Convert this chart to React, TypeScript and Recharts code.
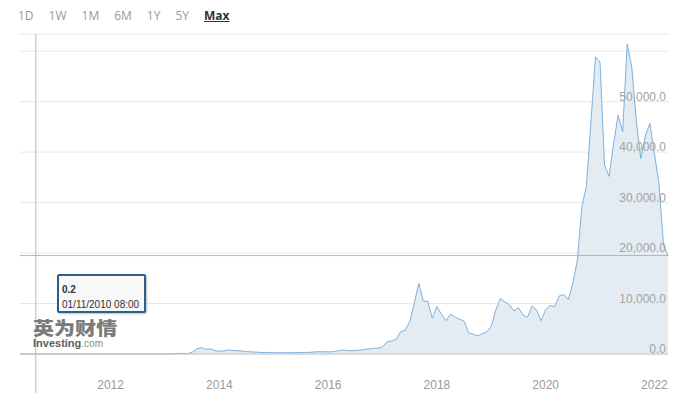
import { AreaChart, Area, XAxis, YAxis, CartesianGrid, ReferenceLine } from "recharts"

const dates = [
  "2010-05", "2010-08", "2010-11", "2011-02", "2011-05", "2011-08", "2011-11",
  "2012-02", "2012-05", "2012-08", "2012-11", "2013-02", "2013-04", "2013-06",
  "2013-07", "2013-08", "2013-09", "2013-10", "2013-11", "2013-12",
  "2014-01", "2014-02", "2014-03", "2014-04", "2014-05", "2014-06", "2014-07", "2014-08", "2014-09", "2014-10", "2014-11", "2014-12",
  "2015-01", "2015-02", "2015-03", "2015-04", "2015-05", "2015-06", "2015-07", "2015-08", "2015-09", "2015-10", "2015-11", "2015-12",
  "2016-01", "2016-02", "2016-03", "2016-04", "2016-05", "2016-06", "2016-07", "2016-08", "2016-09", "2016-10", "2016-11", "2016-12",
  "2017-01", "2017-02", "2017-03", "2017-04", "2017-05", "2017-06", "2017-07", "2017-08", "2017-09", "2017-10", "2017-11", "2017-12",
  "2018-01", "2018-02", "2018-03", "2018-04", "2018-05", "2018-06", "2018-07", "2018-08", "2018-09", "2018-10", "2018-11", "2018-12",
  "2019-01", "2019-02", "2019-03", "2019-04", "2019-05", "2019-06", "2019-07", "2019-08", "2019-09", "2019-10", "2019-11", "2019-12",
  "2020-01", "2020-02", "2020-03", "2020-04", "2020-05", "2020-06", "2020-07", "2020-08", "2020-09", "2020-10", "2020-11", "2020-12",
  "2021-01", "2021-02", "2021-03", "2021-04", "2021-05", "2021-06", "2021-07", "2021-08", "2021-09", "2021-10", "2021-11", "2021-12",
  "2022-01", "2022-02", "2022-03", "2022-04",
]

const prices = [
  0.1, 0.07, 0.2, 0.9, 8, 10, 3,
  5, 5, 10, 12, 30, 120, 100,
  350, 1000, 1300, 950, 1000, 700,
  550, 600, 800, 700, 650, 600, 480, 420, 380, 320, 300, 320,
  250, 260, 240, 280, 250, 270, 300, 310, 330, 420, 450, 430,
  420, 440, 600, 800, 700, 650, 700, 750, 900, 1000, 1100, 1150,
  1400, 2400, 2600, 2900, 4400, 4700, 6400, 10000, 14000, 10500, 10400, 7100,
  9400, 7900, 6600, 7900, 7300, 6900, 6500, 4200, 3900, 3600, 4000, 4400,
  5500, 8700, 11000, 10300, 9800, 8500, 9200, 7700, 7300, 9500, 8700, 6600,
  8800, 9600, 9400, 11500, 11800, 10800, 14000, 18600, 29200, 33300, 46000, 58900,
  57800, 37400, 35200, 41700, 47300, 44000, 61400, 56900, 46300, 38700, 43200, 45700,
  39700, 33800, 21600, 19500,
]

const yearTicks = [2012, 2014, 2016, 2018, 2020, 2022]
const priceTicks = [0, 10000, 20000, 30000, 40000, 50000, 60000]
const ranges = ["1D", "1W", "1M", "6M", "1Y", "5Y", "Max"]

const cursorDate = "2010-08-16"
const tooltipValue = "0.2"
const tooltipDate = "01/11/2010 08:00"

const toYear = (s: string) => {
  const [y, m, d] = s.split("-").map(Number)
  return y + (m - 1) / 12 + ((d || 1) - 1) / 365
}

const data = dates.map((d, i) => ({ t: toYear(d), price: prices[i] }))
const lastPrice = prices[prices.length - 1]
const cursorX = toYear(cursorDate)

const FONT = "Arial, 'Liberation Sans', sans-serif"

const fmt = (v: number) => v.toLocaleString("en-US", { minimumFractionDigits: 1, maximumFractionDigits: 1 })

const PriceTick = ({ y, payload }: any) => {
  // top gridline has no label
  if (payload.value >= 60000) return <g />
  return (
    <text x={666} y={y - 1} textAnchor="end" fill="#a3a3a3" fontSize={12} fontFamily={FONT}>
      {fmt(payload.value)}
    </text>
  )
}

const YearTick = ({ x, y, payload }: any) => (
  <text x={x} y={y + 35} textAnchor="middle" fill="#999" fontSize={12} fontFamily={FONT}>
    {payload.value}
  </text>
)

export default function App() {
  return (
    <div style={{ position: "absolute", left: 0, top: 0, width: 682, height: 400, background: "#fff", overflow: "hidden" }}>
      <AreaChart
        width={682}
        height={400}
        data={data}
        margin={{ top: 34, right: 14, bottom: 6, left: 20 }}
        style={{ position: "absolute", left: 0, top: 0 }}
      >
        <CartesianGrid vertical={false} stroke="#e8e8e8" />
        <XAxis
          dataKey="t"
          type="number"
          domain={["dataMin", "dataMax"]}
          ticks={yearTicks}
          axisLine={false}
          tickLine={false}
          tickSize={0}
          tickMargin={0}
          height={40}
          tick={<YearTick />}
        />
        <YAxis
          orientation="right"
          mirror
          domain={[0, 63400]}
          ticks={priceTicks}
          axisLine={false}
          tickLine={false}
          tickSize={0}
          tickMargin={0}
          tick={<PriceTick />}
        />
        <Area
          type="linear"
          dataKey="price"
          stroke="#7fb1de"
          strokeWidth={1}
          fill="#e3ecf2"
          fillOpacity={1}
          dot={false}
          activeDot={false}
          isAnimationActive={false}
        />
        <ReferenceLine y={0} stroke="#c6c6c6" />
        <ReferenceLine y={lastPrice} stroke="#b4b4b4" />
        <ReferenceLine
          segment={[{ x: cursorX, y: -7700 }, { x: cursorX, y: 63400 }]}
          stroke="#b8b8b8"
          ifOverflow="visible"
        />
      </AreaChart>

      <div style={{ position: "absolute", left: 18, top: 8, display: "flex", gap: 15, fontFamily: "'Open Sans', sans-serif", fontSize: 12, lineHeight: "16px" }}>
        {ranges.map((r) => (
          <span
            key={r}
            style={
              r === "Max"
                ? { color: "#333", fontWeight: 700, textDecoration: "underline" }
                : { color: "#999" }
            }
          >
            {r}
          </span>
        ))}
      </div>

      {/* watermark */}
      <div style={{ position: "absolute", left: 33, top: 318 }}>
        <div
          style={{
            fontFamily: "'Noto Sans CJK SC', sans-serif",
            fontWeight: 900,
            fontSize: 18,
            lineHeight: "18px",
            color: "#7b7b7b",
            transform: "scaleX(1.17)",
            transformOrigin: "left center",
            whiteSpace: "nowrap",
          }}
        >
          英为财情
        </div>
        <div style={{ fontFamily: FONT, fontSize: 11, lineHeight: "12px", marginTop: 1, whiteSpace: "nowrap" }}>
          <span style={{ fontWeight: 700, color: "#5e5e5e" }}>Investing</span>
          <span style={{ fontSize: 10, color: "#8a8a8a" }}>.com</span>
        </div>
      </div>

      <div
        style={{
          position: "absolute",
          left: 57,
          top: 274,
          width: 89,
          height: 39,
          boxSizing: "border-box",
          border: "2px solid #2d5f89",
          borderRadius: 2,
          background: "#f8f8f8",
          boxShadow: "1px 1px 2px rgba(0,0,0,0.25)",
          padding: "6px 3px 0 3px",
          fontFamily: FONT,
          fontSize: 10,
          lineHeight: "15px",
          color: "#333",
        }}
      >
        <div style={{ fontWeight: 700 }}>{tooltipValue}</div>
        <div>{tooltipDate}</div>
      </div>
    </div>
  )
}
